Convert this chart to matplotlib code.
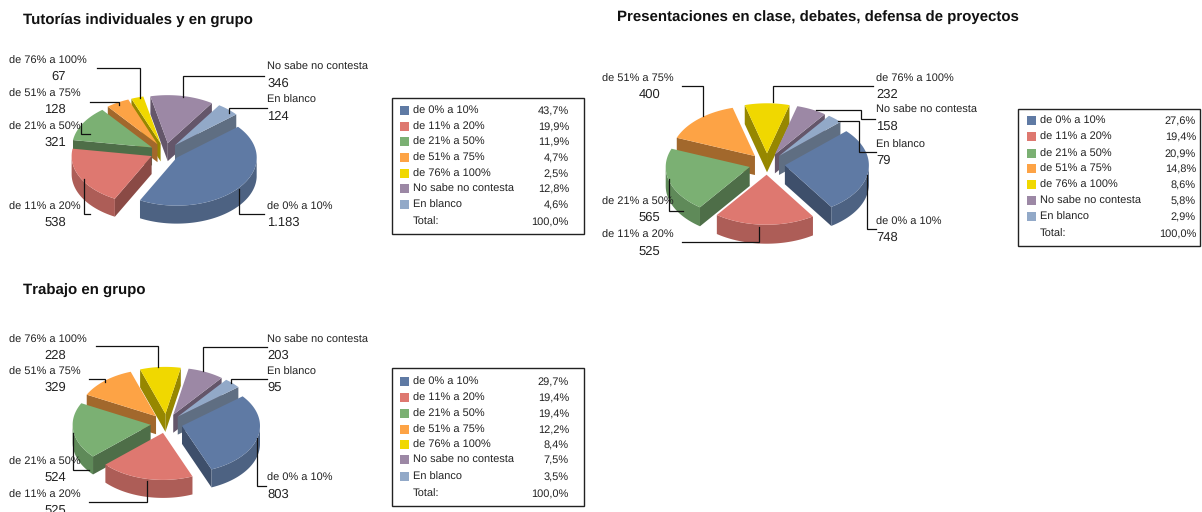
"""Three exploded pseudo-3D pies with leader labels and side tables."""

import matplotlib

matplotlib.use("Agg")
import matplotlib.pyplot as plt
import numpy as np
from matplotlib.patches import Polygon, Rectangle

plt.rcParams["font.family"] = ["Liberation Sans", "DejaVu Sans"]
plt.rcParams["text.hinting"] = "no_hinting"
plt.rcParams["text.hinting_factor"] = 1

categories = [
    "de 0% a 10%",
    "de 11% a 20%",
    "de 21% a 50%",
    "de 51% a 75%",
    "de 76% a 100%",
    "No sabe no contesta",
    "En blanco",
]
tutorias_values = [1183, 538, 321, 128, 67, 346, 124]
tutorias_labels = ["1.183", "538", "321", "128", "67", "346", "124"]
tutorias_pct = ["43,7%", "19,9%", "11,9%", "4,7%", "2,5%", "12,8%", "4,6%"]
presentaciones_values = [748, 525, 565, 400, 232, 158, 79]
presentaciones_labels = ["748", "525", "565", "400", "232", "158", "79"]
presentaciones_pct = ["27,6%", "19,4%", "20,9%", "14,8%", "8,6%", "5,8%", "2,9%"]
trabajo_values = [803, 525, 524, 329, 228, 203, 95]
trabajo_labels = ["803", "525", "524", "329", "228", "203", "95"]
trabajo_pct = ["29,7%", "19,4%", "19,4%", "12,2%", "8,4%", "7,5%", "3,5%"]
total_pct = "100,0%"

top_colors = ["#5f7aa4", "#de7870", "#7bb073", "#fda345", "#f0d800", "#9c88a5", "#92a9c8"]
rim_colors = ["#4d6282", "#ad5d57", "#5f8a59", "#c07f38", "#b8a500", "#7a6a81", "#73859d"]
wall_colors = ["#3e4f6b", "#8a4a45", "#4e6e48", "#a2682c", "#968700", "#64566a", "#5f6e82"]

# label/number anchor y for each category, in pixels
tut_text = {
    0: (267, 206, 221), 1: (9, 206, 221), 2: (9, 126, 141), 3: (9, 93, 108),
    4: (9, 60, 75), 5: (267, 66, 82), 6: (267, 99, 115),
}
pre_text = {
    0: (876, 221, 236), 1: (602, 234, 250), 2: (602, 201, 216), 3: (602, 78, 93),
    4: (876, 78, 93), 5: (876, 109, 125), 6: (876, 144, 159),
}
tra_text = {
    0: (267, 477, 493), 1: (9, 494, 509), 2: (9, 461, 476), 3: (9, 371, 386),
    4: (9, 339, 354), 5: (267, 339, 354), 6: (267, 371, 386),
}

tut_leaders = [
    [(264, 214), (239, 214), (239, 189)],
    [(90, 214), (84, 214), (84, 179)],
    [(81, 123), (81, 134), (90, 134)],
    [(90, 102), (119, 102), (119, 105)],
    [(97, 68), (140, 68), (140, 98)],
    [(264, 76), (183, 76), (183, 97)],
    [(267, 108), (229, 108), (229, 113)],
]
pre_leaders = [
    [(876, 229), (867, 229), (867, 175)],
    [(682, 242), (759, 242), (759, 227)],
    [(683, 211), (669, 211), (669, 179)],
    [(682, 86), (703, 86), (703, 116)],
    [(873, 86), (773, 86), (773, 102)],
    [(875, 119), (861, 119), (861, 110), (816, 110)],
    [(876, 152), (859, 152), (859, 121), (838, 121)],
]
tra_leaders = [
    [(266, 486), (257, 486), (257, 438)],
    [(89, 502), (147, 502), (147, 481)],
    [(89, 470), (73, 470), (73, 433)],
    [(89, 379), (105, 379), (105, 382)],
    [(96, 346), (158, 346), (158, 367)],
    [(267, 347), (203, 347), (203, 371)],
    [(267, 379), (231, 379), (231, 383)],
]

# va="center" sits a little high for this font
TEXT_DY = 1.5

fig = plt.figure(figsize=(12.02, 5.12), dpi=100)
ax = fig.add_axes([0, 0, 1, 1])
ax.set_xlim(0, 1202)
ax.set_ylim(512, 0)
ax.axis("off")


def ell(ang, cx, cy, rx, ry):
    # angles are degrees clockwise from 12 o'clock
    t = np.radians(ang)
    return cx + rx * np.sin(t), cy - ry * np.cos(t)


def draw_pie(values, cx, cy, rx, ry, depth, boom, start=50):
    spans = np.array(values) / sum(values) * 360
    ends = start + np.cumsum(spans)
    slices = []
    for i, span in enumerate(spans):
        a1 = ends[i]
        a0 = a1 - span
        mid = (a0 + a1) / 2
        vx, vy = ell(mid, cx, cy, boom, boom * ry / rx)
        slices.append((vy - np.cos(np.radians(mid)) * ry * 0.6, i, a0, a1, vx, vy))
    # back to front so nearer slices cover farther ones
    for _, i, a0, a1, vx, vy in sorted(slices):
        ang = np.linspace(a0, a1, 80)
        xs, ys = ell(ang, vx, vy, rx, ry)
        # radial walls, only when turned towards the viewer
        if np.sin(np.radians(a0)) < 0:
            px, py = ell(a0, vx, vy, rx, ry)
            ax.add_patch(Polygon([(vx, vy), (px, py), (px, py + depth), (vx, vy + depth)],
                                 fc=wall_colors[i], ec="none", zorder=2))
        if np.sin(np.radians(a1)) > 0:
            px, py = ell(a1, vx, vy, rx, ry)
            ax.add_patch(Polygon([(vx, vy), (px, py), (px, py + depth), (vx, vy + depth)],
                                 fc=wall_colors[i], ec="none", zorder=2))
        # outer rim: just the front half of the ellipse
        front = ang[np.cos(np.radians(ang)) < 0]
        if len(front) > 1:
            fx, fy = ell(front, vx, vy, rx, ry)
            rim = np.r_[np.c_[fx, fy], np.c_[fx[::-1], fy[::-1] + depth]]
            ax.add_patch(Polygon(rim, fc=rim_colors[i], ec="none", zorder=2))
        top = np.r_[[[vx, vy]], np.c_[xs, ys]]
        ax.add_patch(Polygon(top, fc=top_colors[i], ec="none", zorder=2))


def draw_labels(labels, text_pos, leaders, num_right):
    for i, name in enumerate(categories):
        x, y1, y2 = text_pos[i]
        ax.text(x, y1 + TEXT_DY, name, fontsize=8.2, color="#222222", ha="left", va="center", zorder=4)
        if x < num_right:
            ax.text(num_right, y2 + TEXT_DY, labels[i], fontsize=9, color="#222222",
                    ha="right", va="center", zorder=4)
        else:
            ax.text(x, y2 + TEXT_DY, labels[i], fontsize=9, color="#222222",
                    ha="left", va="center", zorder=4)
        lx, ly = zip(*leaders[i])
        ax.plot(lx, ly, color="#111111", lw=0.9, solid_joinstyle="miter", zorder=3)


def draw_table(pct, x0, y0, x1, y1, rows, sw_x, txt_x, val_x):
    ax.add_patch(Rectangle((x0, y0), x1 - x0, y1 - y0, fc="white", ec="#222222", lw=1, zorder=1))
    for i, name in enumerate(categories):
        ax.add_patch(Rectangle((sw_x, rows[i] - 4.5), 9, 9, fc=top_colors[i], ec="none", zorder=2))
        ax.text(txt_x, rows[i] + TEXT_DY, name, fontsize=8.2, color="#222222", va="center", zorder=4)
        ax.text(val_x, rows[i] + TEXT_DY, pct[i], fontsize=8.2, color="#222222", ha="right", va="center", zorder=4)
    ax.text(txt_x, rows[7] + TEXT_DY, "Total:", fontsize=8.2, color="#222222", va="center", zorder=4)
    ax.text(val_x, rows[7] + TEXT_DY, total_pct, fontsize=8.2, color="#222222", ha="right", va="center", zorder=4)


draw_pie(tutorias_values, 165, 152, 80, 48, 18, 15)
draw_labels(tutorias_labels, tut_text, tut_leaders, 66)
draw_table(tutorias_pct, 392, 98, 584, 234, [110, 126, 141, 157, 173, 188, 204, 221], 400, 413, 569)

draw_pie(presentaciones_values, 767, 164, 84, 50, 19, 18, start=47)
draw_labels(presentaciones_labels, pre_text, pre_leaders, 660)
draw_table(presentaciones_pct, 1018, 109, 1200, 246, [120, 136, 153, 168, 184, 200, 216, 233], 1027, 1040, 1196)

draw_pie(trabajo_values, 166.5, 423.5, 78, 47, 18, 16, start=51)
draw_labels(trabajo_labels, tra_text, tra_leaders, 66)
draw_table(trabajo_pct, 392, 368, 584, 506, [381, 397, 413, 429, 444, 459, 476, 493], 400, 413, 569)

title_kw = dict(fontsize=11, fontweight="bold", color="#111111", ha="left", va="center")
ax.text(23, 19.5, "Tutorías individuales y en grupo", **title_kw)
ax.text(617, 17.5, "Presentaciones en clase, debates, defensa de proyectos", **title_kw)
ax.text(23, 290.5, "Trabajo en grupo", **title_kw)

fig.savefig("out.png", dpi=100)
plt.close()
